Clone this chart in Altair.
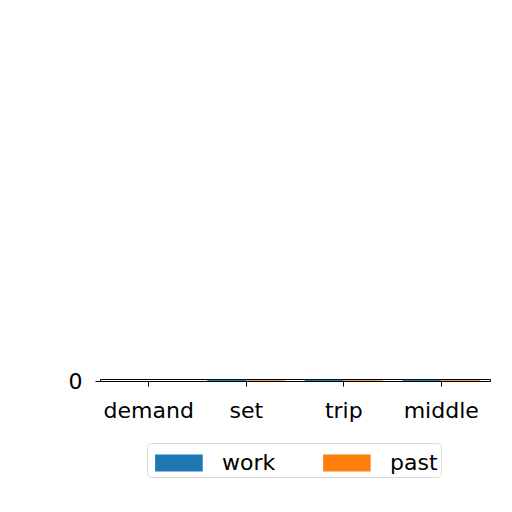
import altair as alt
import pandas as pd

categories = ["demand", "set", "trip", "middle"]
series_names = ["work", "past"]
work_values = [0.05, 0.6, 0.6, 0.6]
past_values = [0.05, 0.35, 0.35, 0.35]
colors = ["#1f77b4", "#ff7f0e"]

rows = []
for c, w, p in zip(categories, work_values, past_values):
    rows.append({"category": c, "series": "work", "value": w})
    rows.append({"category": c, "series": "past", "value": p})
df = pd.DataFrame(rows)

font = "DejaVu Sans"

chart = alt.Chart(df).mark_bar().encode(
    x=alt.X("category:N", sort=categories, title=None,
            scale=alt.Scale(paddingInner=0.2, paddingOuter=0.1),
            axis=alt.Axis(labelAngle=0, domain=False, ticks=True, tickSize=5,
                          tickColor="black", labelFontSize=22, labelFont=font,
                          labelColor="black", labelPadding=14)),
    xOffset=alt.XOffset("series:N", sort=series_names),
    y=alt.Y("value:Q", title=None, scale=alt.Scale(domain=[0, 1]),
            axis=alt.Axis(values=[0], domain=False, grid=False, tickSize=5,
                          tickColor="black", labelFontSize=22, labelFont=font,
                          labelColor="black", labelPadding=13)),
    color=alt.Color("series:N", sort=series_names,
                    scale=alt.Scale(domain=series_names, range=colors),
                    legend=alt.Legend(title=None, orient="none", legendX=47, legendY=64,
                                      direction="horizontal", columns=2,
                                      symbolType="M-0.7,-0.5L2.1,-0.5L2.1,0.5L-0.7,0.5Z",
                                      symbolSize=1156, symbolStrokeWidth=0,
                                      labelFontSize=22, labelFont=font, labelColor="black",
                                      labelOffset=38, columnPadding=42, padding=3,
                                      strokeColor="#d9d9d9", cornerRadius=4,
                                      fillColor="white")),
).properties(
    width=390, height=2,
    autosize=alt.AutoSizeParams(type="none"),
    padding={"left": 92, "top": 371, "right": 14, "bottom": 120},
).configure_view(stroke="black", strokeWidth=1)

chart.save("out.html", embed_options={"renderer": "svg", "actions": False})
